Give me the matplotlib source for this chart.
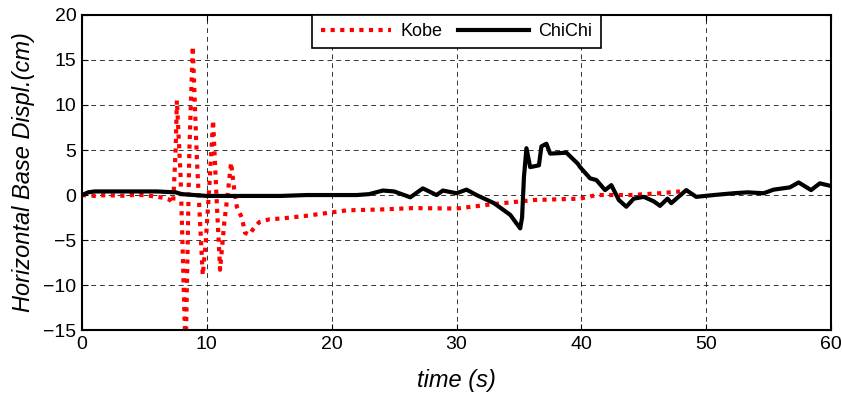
import matplotlib
matplotlib.use("Agg")
import matplotlib.pyplot as plt

plt.rcParams['font.family'] = ['Liberation Sans', 'DejaVu Sans']

# Kobe record
kobe_t = [0, 1, 2, 3, 4, 5, 6, 6.5, 7.0, 7.3, 7.5, 7.6, 7.9, 8.3, 8.6, 8.87, 9.2,
          9.67, 9.9, 10.2, 10.5, 10.8, 11.06, 11.4, 11.7, 11.94, 12.2, 12.4, 12.8,
          13.06, 13.4, 13.7, 14.2, 15, 16, 18, 21.2, 24, 26.5, 30, 33, 36.2, 39.9,
          41.2, 43.9, 46.3, 47.9]
kobe_y = [0, -0.1, 0, -0.1, 0, 0, -0.2, -0.3, -0.5, -0.9, 5, 10.5, 2, -18, 5, 16.5, 4,
          -8.9, -5.5, 1, 8.3, -1, -8.3, -3, 0.5, 3.6, 0.5, -1.3, -2.5,
          -4.2, -4.4, -3.8, -3.0, -2.7, -2.6, -2.3, -1.7, -1.6, -1.45, -1.5, -1.0, -0.55, -0.4,
          0, 0, 0.2, 0.4]

# ChiChi record
chichi_t = [0, 0.5, 1, 2, 4, 6, 7.5, 8, 9, 10, 12, 15.9, 18, 22, 23, 24.1, 25, 26.3, 27.3,
            28.4, 28.9, 30.0, 30.8, 31.6, 33.0, 34.3, 35.1, 35.25, 35.4, 35.6, 35.9, 36.6,
            36.8, 37.2, 37.5, 38.8, 39.7, 39.9, 40.7, 41.2, 41.9, 42.4, 43.0, 43.6, 44.2,
            45.0, 45.8, 46.3, 46.9, 47.2, 48.4, 49.2, 50.6, 52.2, 53.3, 54.6, 55.4, 56.7,
            57.4, 58.4, 59.1, 60]
chichi_y = [0, 0.3, 0.4, 0.4, 0.4, 0.4, 0.3, 0.1, 0, -0.1, -0.1, -0.1, 0, 0, 0.1, 0.5, 0.4,
            -0.25, 0.74, 0, 0.5, 0.2, 0.6, 0, -0.9, -2.2, -3.7, -2.5, 2.0, 5.2, 3.1, 3.3,
            5.4, 5.7, 4.6, 4.7, 3.5, 3.1, 1.85, 1.67, 0.55, 1.1, -0.55, -1.3, -0.4,
            -0.2, -0.7, -1.2, -0.4, -0.9, 0.55, -0.2, 0, 0.2, 0.3, 0.2, 0.6, 0.85,
            1.4, 0.55, 1.3, 1.0]

fig = plt.figure(figsize=(8.42, 3.93), dpi=100)
ax = fig.add_axes([0.0974, 0.160, 0.8896, 0.802])

ax.plot(kobe_t, kobe_y, color='red', lw=3, linestyle=(0, (1, 1.3)), label='Kobe')
ax.plot(chichi_t, chichi_y, color='black', lw=3, label='ChiChi')

ax.set_xlim(0, 60)
ax.set_ylim(-15, 20)
ax.set_xticks(range(0, 61, 10))
ax.set_yticks(range(-15, 21, 5))
ax.grid(True, color='black', lw=0.7, linestyle=(0, (5, 4)), alpha=0.8)
ax.tick_params(direction='in', labelsize=14, length=4, top=True, right=True, pad=4)
for s in ax.spines.values():
    s.set_linewidth(1.5)

ax.set_xlabel('time (s)', fontsize=17, style='italic', labelpad=12)
ax.set_ylabel('Horizontal Base Displ.(cm)', fontsize=17, style='italic', labelpad=6)

leg = ax.legend(loc='upper center', ncol=2, fontsize=13, frameon=True, fancybox=False,
                edgecolor='black', handlelength=3.9, handletextpad=0.55,
                borderaxespad=0.0, columnspacing=0.85, framealpha=1, borderpad=0.45)
leg.get_frame().set_linewidth(1.2)

fig.savefig('out.png', dpi=100)
